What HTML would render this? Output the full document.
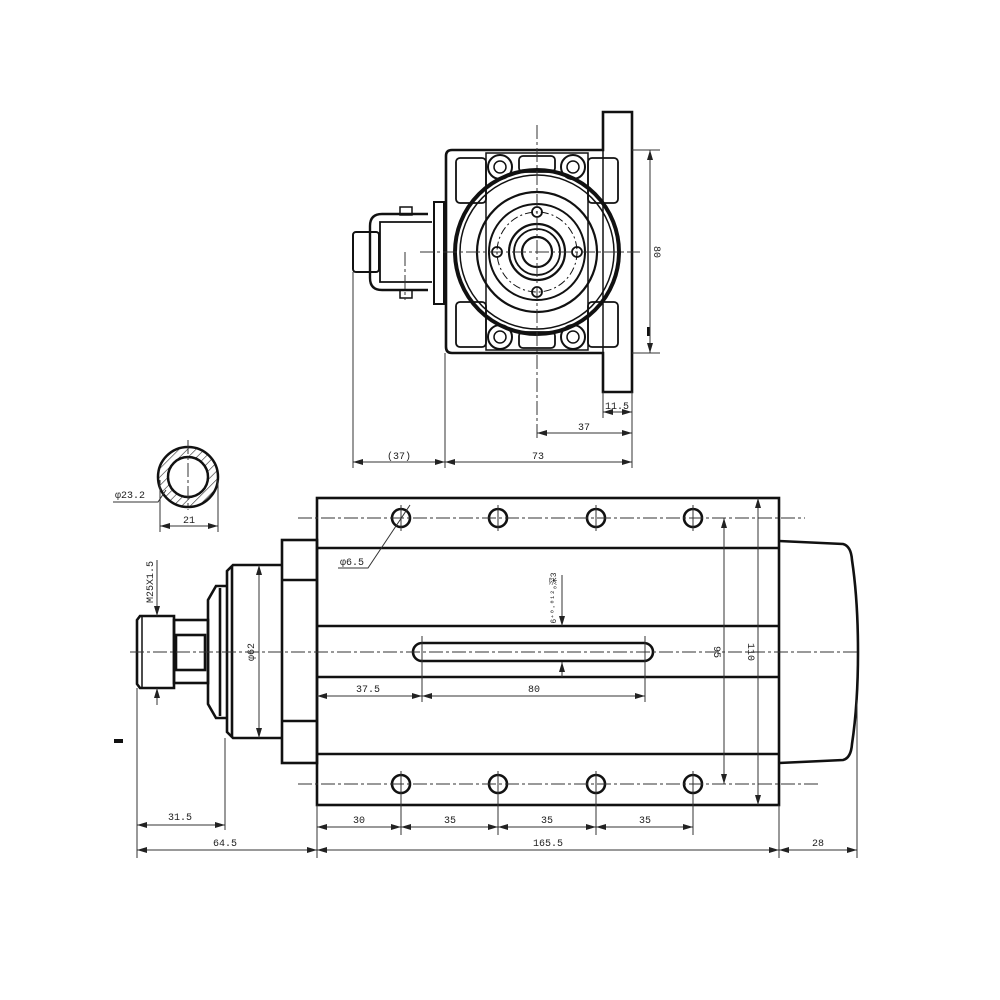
<!DOCTYPE html>
<html><head><meta charset="utf-8"><style>
html,body{margin:0;padding:0;background:#fff;}
svg{display:block;}
text{font-family:"Liberation Mono",monospace;font-size:10px;fill:#222;}
</style></head><body>
<svg width="1000" height="1000" viewBox="0 0 1000 1000" xmlns="http://www.w3.org/2000/svg">
<defs>
<marker id="a" viewBox="0 0 10 6" refX="10" refY="3" markerWidth="10" markerHeight="6" orient="auto-start-reverse" markerUnits="userSpaceOnUse"><path d="M0,0L10,3L0,6z" fill="#222"/></marker>
<pattern id="h" width="6" height="6" patternUnits="userSpaceOnUse" patternTransform="rotate(45)"><line x1="0" y1="0" x2="0" y2="6" stroke="#222" stroke-width="1.2"/></pattern>
</defs>
<g fill="none" stroke="#111" stroke-width="2.6">
<!-- TOP VIEW -->
<path d="M452,150 H603 V112 H632 V392 H603 V353 H452 Q446,353 446,347 V156 Q446,150 452,150Z"/>
<line x1="603" y1="150" x2="603" y2="353" stroke-width="1.5"/>
<rect x="456" y="158" width="30" height="45" rx="4" stroke-width="1.8"/>
<rect x="588" y="158" width="30" height="45" rx="4" stroke-width="1.8"/>
<rect x="456" y="302" width="30" height="45" rx="4" stroke-width="1.8"/>
<rect x="588" y="302" width="30" height="45" rx="4" stroke-width="1.8"/>
<rect x="519" y="156" width="36" height="16" rx="4" stroke-width="1.8"/>
<rect x="519" y="332" width="36" height="16" rx="4" stroke-width="1.8"/>
<path d="M486,153 H588 V350 H486 Z" stroke-width="1.5"/>
<circle cx="500" cy="167" r="12" stroke-width="2"/><circle cx="500" cy="167" r="6" stroke-width="1.5"/>
<circle cx="573" cy="167" r="12" stroke-width="2"/><circle cx="573" cy="167" r="6" stroke-width="1.5"/>
<circle cx="500" cy="337" r="12" stroke-width="2"/><circle cx="500" cy="337" r="6" stroke-width="1.5"/>
<circle cx="573" cy="337" r="12" stroke-width="2"/><circle cx="573" cy="337" r="6" stroke-width="1.5"/>
<circle cx="537" cy="252" r="82" stroke-width="4"/>
<circle cx="537" cy="252" r="77" stroke-width="1.5"/>
<circle cx="537" cy="252" r="60" stroke-width="2.2"/>
<circle cx="537" cy="252" r="40" stroke-width="1" stroke-dasharray="8,3,2,3"/>
<circle cx="537" cy="252" r="48" stroke-width="2"/>
<circle cx="537" cy="252" r="28" stroke-width="2.2"/>
<circle cx="537" cy="252" r="23" stroke-width="1.8"/>
<circle cx="537" cy="252" r="15" stroke-width="2.2"/>
<circle cx="537" cy="212" r="5" stroke-width="1.8"/><circle cx="537" cy="292" r="5" stroke-width="1.8"/>
<circle cx="497" cy="252" r="5" stroke-width="1.8"/><circle cx="577" cy="252" r="5" stroke-width="1.8"/>
<rect x="434" y="202" width="10" height="102" stroke-width="2"/>
<path d="M428,214 H382 Q370,214 370,226 V278 Q370,290 382,290 H428" stroke-width="2.4"/>
<path d="M432,222 H380 V282 H432" stroke-width="1.8"/>
<rect x="400" y="207" width="12" height="8" stroke-width="1.5"/><rect x="400" y="290" width="12" height="8" stroke-width="1.5"/>
<rect x="353" y="232" width="26" height="40" rx="3" stroke-width="2"/>
<!-- SECTION -->
<circle cx="188" cy="477" r="30" fill="url(#h)" stroke-width="2.5"/>
<circle cx="188" cy="477" r="20" fill="#fff" stroke-width="2.5"/>
<!-- BOTTOM VIEW -->
<rect x="317" y="498" width="462" height="307"/>
<line x1="317" y1="548" x2="779" y2="548"/><line x1="317" y1="626" x2="779" y2="626"/>
<line x1="317" y1="677" x2="779" y2="677"/><line x1="317" y1="754" x2="779" y2="754"/>
<circle cx="401" cy="518" r="9"/><circle cx="498" cy="518" r="9"/><circle cx="596" cy="518" r="9"/><circle cx="693" cy="518" r="9"/>
<circle cx="401" cy="784" r="9"/><circle cx="498" cy="784" r="9"/><circle cx="596" cy="784" r="9"/><circle cx="693" cy="784" r="9"/>
<rect x="413" y="643" width="240" height="18" rx="9"/>
<rect x="282" y="540" width="35" height="223"/>
<line x1="282" y1="580" x2="317" y2="580"/><line x1="282" y1="721" x2="317" y2="721"/>
<path d="M282,565 H233 L227,571 V732 L233,738 H282"/>
<line x1="232" y1="566" x2="232" y2="737"/>
<path d="M227,586 H216 L208,600 V704 L216,718 H227"/>
<line x1="220" y1="588" x2="220" y2="716"/>
<rect x="174" y="620" width="34" height="63"/>
<rect x="176" y="635" width="29" height="35"/>
<path d="M174,616 H140 L137,620 V684 L140,688 H174 Z"/>
<line x1="142" y1="617" x2="142" y2="687" stroke-width="1.5"/>
<path d="M779,541 L843,544 Q851,546 852,560 Q858,600 858,652 Q858,704 852,744 Q851,758 843,760 L779,763"/>
</g>
<rect x="114" y="739" width="9" height="4" fill="#111"/>
<rect x="647" y="327" width="3" height="9" fill="#111"/>
<!-- centerlines -->
<g stroke="#333" stroke-width="1" stroke-dasharray="14,3,3,3" fill="none">
<line x1="537" y1="125" x2="537" y2="440"/>
<line x1="420" y1="252" x2="640" y2="252"/>
<line x1="298" y1="518" x2="805" y2="518"/>
<line x1="298" y1="784" x2="820" y2="784"/>
<line x1="130" y1="652" x2="860" y2="652"/>
<line x1="188" y1="440" x2="188" y2="510"/>
<line x1="405" y1="252" x2="405" y2="300"/>
</g>
<g stroke="#333" stroke-width="1" fill="none">
<line x1="401" y1="505" x2="401" y2="531"/><line x1="498" y1="505" x2="498" y2="531"/><line x1="596" y1="505" x2="596" y2="531"/><line x1="693" y1="505" x2="693" y2="531"/>
<line x1="401" y1="771" x2="401" y2="835"/><line x1="498" y1="771" x2="498" y2="835"/><line x1="596" y1="771" x2="596" y2="835"/><line x1="693" y1="771" x2="693" y2="835"/>
<!-- top view dims -->
<line x1="632" y1="150" x2="660" y2="150"/><line x1="632" y1="353" x2="660" y2="353"/>
<line x1="650" y1="150" x2="650" y2="353" marker-start="url(#a)" marker-end="url(#a)"/>
<line x1="632" y1="392" x2="632" y2="468"/><line x1="603" y1="392" x2="603" y2="418"/>
<line x1="603" y1="412" x2="632" y2="412" marker-start="url(#a)" marker-end="url(#a)"/>
<line x1="537" y1="433" x2="632" y2="433" marker-start="url(#a)" marker-end="url(#a)"/>
<line x1="353" y1="272" x2="353" y2="468"/><line x1="445" y1="353" x2="445" y2="468"/>
<line x1="353" y1="462" x2="445" y2="462" marker-start="url(#a)" marker-end="url(#a)"/>
<line x1="445" y1="462" x2="632" y2="462" marker-start="url(#a)" marker-end="url(#a)"/>
<!-- section dims -->
<line x1="160" y1="480" x2="160" y2="532"/><line x1="218" y1="480" x2="218" y2="532"/>
<line x1="160" y1="526" x2="218" y2="526" marker-start="url(#a)" marker-end="url(#a)"/>
<polyline points="113,502 158,502 166,490"/>
<!-- bottom dims -->
<polyline points="338,568 368,568 410,505"/>
<line x1="259" y1="565" x2="259" y2="738" marker-start="url(#a)" marker-end="url(#a)"/>
<line x1="157" y1="560" x2="157" y2="616" marker-end="url(#a)"/>
<line x1="157" y1="688" x2="157" y2="705" marker-start="url(#a)"/>
<line x1="137" y1="688" x2="137" y2="858"/><line x1="225" y1="738" x2="225" y2="830"/>
<line x1="317" y1="805" x2="317" y2="858"/><line x1="779" y1="805" x2="779" y2="858"/><line x1="857" y1="700" x2="857" y2="858"/>
<line x1="137" y1="825" x2="225" y2="825" marker-start="url(#a)" marker-end="url(#a)"/>
<line x1="137" y1="850" x2="317" y2="850" marker-start="url(#a)" marker-end="url(#a)"/>
<line x1="317" y1="850" x2="779" y2="850" marker-start="url(#a)" marker-end="url(#a)"/>
<line x1="779" y1="850" x2="857" y2="850" marker-start="url(#a)" marker-end="url(#a)"/>
<line x1="317" y1="827" x2="401" y2="827" marker-start="url(#a)" marker-end="url(#a)"/>
<line x1="401" y1="827" x2="498" y2="827" marker-start="url(#a)" marker-end="url(#a)"/>
<line x1="498" y1="827" x2="596" y2="827" marker-start="url(#a)" marker-end="url(#a)"/>
<line x1="596" y1="827" x2="693" y2="827" marker-start="url(#a)" marker-end="url(#a)"/>
<line x1="422" y1="636" x2="422" y2="702"/><line x1="645" y1="636" x2="645" y2="702"/>
<line x1="317" y1="696" x2="422" y2="696" marker-start="url(#a)" marker-end="url(#a)"/>
<line x1="422" y1="696" x2="645" y2="696" marker-start="url(#a)" marker-end="url(#a)"/>
<line x1="562" y1="575" x2="562" y2="626" marker-end="url(#a)"/>
<line x1="562" y1="677" x2="562" y2="662" marker-end="url(#a)"/>
<line x1="724" y1="518" x2="724" y2="784" marker-start="url(#a)" marker-end="url(#a)"/>
<line x1="758" y1="498" x2="758" y2="805" marker-start="url(#a)" marker-end="url(#a)"/>
</g>
<g>
<text x="654" y="252" transform="rotate(90 654 252)" text-anchor="middle">80</text>
<text x="617" y="409" text-anchor="middle">11.5</text>
<text x="584" y="430" text-anchor="middle">37</text>
<text x="399" y="459" text-anchor="middle">(37)</text>
<text x="538" y="459" text-anchor="middle">73</text>
<text x="115" y="498">φ23.2</text>
<text x="189" y="523" text-anchor="middle">21</text>
<text x="340" y="565">φ6.5</text>
<text x="254" y="652" transform="rotate(-90 254 652)" text-anchor="middle">φ62</text>
<text x="153" y="582" transform="rotate(-90 153 582)" text-anchor="middle">M25X1.5</text>
<text x="556" y="598" transform="rotate(-90 556 598)" text-anchor="middle" style="font-size:8px">6⁺⁰·⁰¹²₀深3</text>
<text x="714" y="652" transform="rotate(90 714 652)" text-anchor="middle">95</text>
<text x="748" y="652" transform="rotate(90 748 652)" text-anchor="middle">110</text>
<text x="180" y="820" text-anchor="middle">31.5</text>
<text x="225" y="846" text-anchor="middle">64.5</text>
<text x="548" y="846" text-anchor="middle">165.5</text>
<text x="818" y="846" text-anchor="middle">28</text>
<text x="359" y="823" text-anchor="middle">30</text>
<text x="450" y="823" text-anchor="middle">35</text>
<text x="547" y="823" text-anchor="middle">35</text>
<text x="645" y="823" text-anchor="middle">35</text>
<text x="368" y="692" text-anchor="middle">37.5</text>
<text x="534" y="692" text-anchor="middle">80</text>
</g>
</svg>
</body></html>
